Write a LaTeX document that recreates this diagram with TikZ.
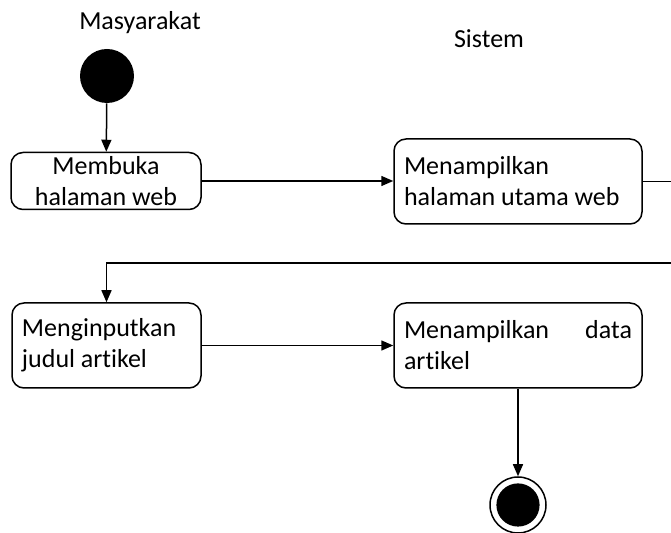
\documentclass[tikz,border=0pt]{standalone}
\usepackage{fontspec}
\setmainfont{Carlito}[Ligatures=NoCommon]
\usetikzlibrary{arrows.meta,positioning}
\tikzset{
  activity/.style={draw=black,rounded corners=6pt,line width=.75pt,inner xsep=5pt,inner ysep=0pt,font=\fontsize{13}{15.5}\selectfont,
    execute at begin node={\spaceskip=.22em\relax}},
  wideact/.style={activity,align=left,text width=114pt,minimum width=124pt,minimum height=42.5pt},
  narrowact/.style={activity,align=left,text width=84.5pt,minimum width=94.5pt,minimum height=42.5pt},
  startnode/.style={circle,fill=black,inner sep=0pt,minimum size=27pt},
  endnode/.style={circle,draw=black,line width=.75pt,inner sep=0pt,minimum size=28pt,
    path picture={\fill[black] (path picture bounding box.center) circle (10.8pt);}},
  lane/.style={font=\fontsize{13}{15.5}\selectfont},
  flow/.style={-{Triangle[length=6pt,width=5pt]},line width=.75pt},
}

\begin{document}
\begin{tikzpicture}[x=.5pt,y=-.5pt]
  \clip (0,0) rectangle (671,533);
  % swimlane titles
  \node[lane] (lblMasyarakat) at (140,23) {Masyarakat};
  \node[lane] (lblSistem) at (489,39) {Sistem};
  % activities
  \node[startnode] (start) at (107,76) {};
  \node[activity,align=center,minimum width=95pt,minimum height=28.5pt] (buka) at (106,181) {Membuka\\halaman web};
  \node[wideact] (utama) at (518,181.5) {Menampilkan\\halaman utama web};
  \node[narrowact] (inp) at (106.5,345.5) {Menginputkan\\judul artikel};
  \node[wideact] (data) at (518,345.5) {Menampilkan\hfill data\\artikel};
  \node[endnode] (stop) at (518,505) {};
  \coordinate (turn) at (700,263);
  % flows
  \draw[flow] (start) -- (buka);
  \draw[flow] (buka) -- (utama.west |- buka.east);
  \draw[flow] (utama.east) -| (turn) -| (inp.north);
  \draw[flow] (inp) -- (data);
  \draw[flow] (data) -- (stop);
\end{tikzpicture}
\end{document}
